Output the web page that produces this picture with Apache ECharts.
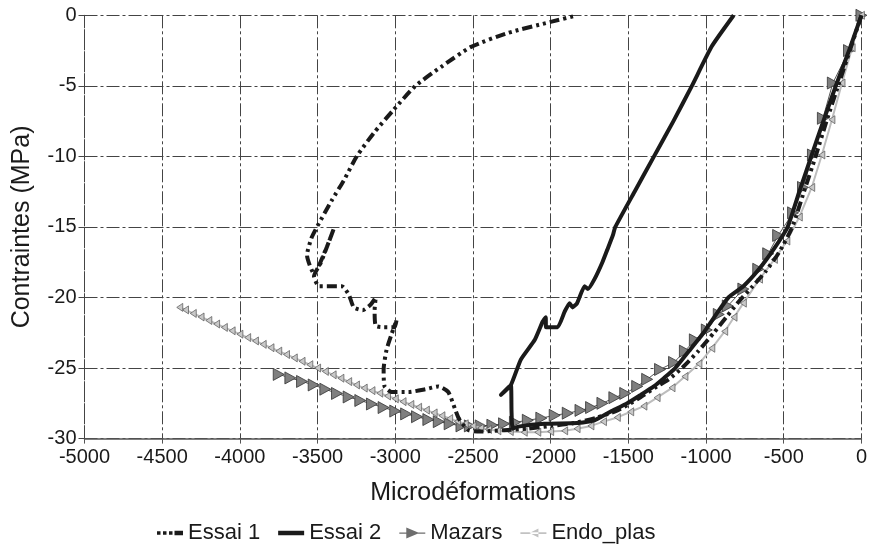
<!DOCTYPE html>
<html>
<head>
<meta charset="utf-8">
<script src="https://cdn.jsdelivr.net/npm/echarts@6/dist/echarts.min.js"></script>
<style>
html,body{margin:0;padding:0;background:#fff;}
#c{width:870px;height:553px;}
</style>
</head>
<body>
<div id="c"></div>
<script>
// ---- Axis ticks ----
const xTicks = [-5000,-4500,-4000,-3500,-3000,-2500,-2000,-1500,-1000,-500,0];
const yTicks = [-30,-25,-20,-15,-10,-5,0];

// ---- Essai 1 (microstrain, MPa) ----
const essai1X = [0,-75,-150,-225,-295,-370,-445,-530,-620,-700,-790,-870,-950,-1050,-1155,-1240,-1315,-1440,-1570,-1700,-1850,-2000,-2150,-2300,-2450,-2530,
  -2590,-2614,-2659,-2723,-2806,-2915,-3024,-3069,-3075,-3056,-3024,-2992,-3005,-3075,-3126,-3133,-3126,-3158,-3210,-3267,-3299,-3344,-3427,-3491,-3523,-3478,-3395,-3440,-3523,-3568,-3540,-3504,
  -3408,-3331,-3248,-3139,-3011,-2870,-2704,-2512,-2275,-2000,-1846];
const essai1Y = [0,-2.5,-5,-7.5,-10,-12.5,-15,-16.8,-18.2,-19.2,-20.3,-21.4,-22.5,-23.8,-25,-25.8,-26.3,-27.2,-28,-28.5,-28.9,-29.1,-29.3,-29.4,-29.5,-29.4,
  -28.6,-27.95,-26.7,-26.3,-26.5,-26.7,-26.7,-26.3,-25.1,-23.7,-22.6,-21.6,-22.1,-22.1,-22.0,-20.9,-20.0,-20.5,-20.9,-20.7,-19.8,-19.2,-19.2,-19.2,-18.5,-17.5,-15.1,-16.4,-18.3,-17.0,-15.8,-15.0,
  -13.1,-11.7,-10.0,-8.35,-6.7,-5.0,-3.65,-2.24,-1.25,-0.47,-0.05];

// ---- Essai 2 ----
const essai2X = [0,-80,-165,-245,-323,-400,-475,-560,-660,-760,-856,-935,-1016,-1110,-1198,-1270,-1336,-1420,-1507,-1616,-1718,-1830,-2040,-2210,-2245,-2252,-2256,-2320,-2256,
  -2192,-2102,-2051,-2032,-2030,-1955,-1910,-1878,-1860,-1830,-1782,-1760,-1718,-1667,-1635,-1600,-1584,-1460,-1335,-1210,-1091,-963,-822];
const essai2Y = [0,-2.5,-5,-7.5,-10,-12.5,-15,-16.5,-18,-19.2,-20,-21.2,-22.5,-23.8,-25,-25.7,-26.3,-26.9,-27.5,-28.1,-28.7,-28.9,-28.95,-29.15,-29.3,-28.0,-26.2,-26.9,-26.2,
  -24.4,-23.0,-21.7,-21.4,-22.1,-22.1,-21.0,-20.4,-20.7,-20.4,-19.2,-19.4,-18.7,-17.5,-16.6,-15.6,-15.0,-12.5,-10,-7.5,-5,-2.2,0];

// ---- Mazars model ----
const mazarsX = [0,-80,-184,-248,-312,-376,-440,-536,-600,-664,-760,-860,-918,-995,-1072,-1136,-1206,-1296,-1379,-1443,-1520,-1590,-1667,-1740,-1808,-1890,-1974,-2060,-2147,-2230,-2300,-2375,-2450,-2520,-2574,
  -2650,-2720,-2787,-2860,-2930,-3000,-3075,-3150,-3225,-3300,-3375,-3450,-3525,-3600,-3675,-3750];
const mazarsY = [0,-2.5,-4.8,-7.3,-9.9,-12.2,-14.0,-15.6,-16.9,-18.0,-19.4,-20.6,-21.2,-22.3,-23.0,-23.8,-24.6,-25.1,-25.8,-26.3,-26.8,-27.1,-27.5,-27.8,-28.0,-28.2,-28.35,-28.55,-28.7,-28.85,-28.95,-29.05,-29.1,-29.1,-29.1,
  -28.95,-28.8,-28.65,-28.45,-28.25,-28.05,-27.8,-27.55,-27.3,-27.05,-26.8,-26.5,-26.2,-25.95,-25.7,-25.45];

// ---- Endo_plas model ----
const endoX = [0,-60,-125,-190,-255,-320,-400,-480,-560,-656,-760,-820,-880,-963,-1046,-1136,-1219,-1315,-1400,-1485,-1571,-1660,-1741,-1830,-1910,-2000,-2083,-2170,-2260,-2340,
  -2400,-2450,-2500,-2550,-2600,-2650,-2700,-2750,-2800,-2850,-2900,-2950,-3000,-3050,-3100,-3150,-3200,-3250,-3300,-3350,-3400,-3450,-3500,-3550,-3600,-3650,-3700,-3750,-3800,-3850,-3900,-3950,-4000,-4050,-4100,-4150,-4200,-4250,-4300,-4350,-4387];
const endoY = [0,-2.3,-4.8,-7.4,-9.9,-12.2,-14.3,-16.0,-17.3,-18.7,-20.4,-21.4,-22.4,-23.6,-24.7,-25.6,-26.4,-27.1,-27.7,-28.1,-28.5,-28.8,-29.1,-29.3,-29.45,-29.5,-29.55,-29.55,-29.5,-29.45,
  -29.35,-29.25,-29.1,-28.95,-28.78,-28.58,-28.38,-28.18,-27.98,-27.78,-27.58,-27.38,-27.18,-26.98,-26.78,-26.6,-26.42,-26.2,-25.96,-25.72,-25.48,-25.24,-25.0,-24.76,-24.52,-24.28,-24.04,-23.8,-23.56,-23.32,-23.08,-22.84,-22.6,-22.36,-22.12,-21.88,-21.63,-21.38,-21.13,-20.88,-20.7];

const zip = (xs, ys) => xs.map((x, i) => [x, ys[i]]);
const FONT = '"Liberation Sans", Arial, Helvetica, sans-serif';
const gridDash = [13, 3, 3, 3];

const chart = echarts.init(document.getElementById('c'), null, {renderer: 'canvas'});
chart.setOption({
  animation: false,
  backgroundColor: '#ffffff',
  grid: {left: 84.5, right: 4.5, top: 15.3, bottom: 114.4, containLabel: false},
  xAxis: {
    type: 'value', min: xTicks[0], max: xTicks[xTicks.length - 1], interval: 500,
    name: 'Microdéformations', nameLocation: 'middle', nameGap: 42,
    nameTextStyle: {fontFamily: FONT, fontSize: 25, color: '#1a1a1a'},
    axisLine: {show: true, onZero: false, lineStyle: {color: '#555', width: 1.5}},
    axisTick: {show: true, length: 5, lineStyle: {color: '#555'}},
    axisLabel: {fontFamily: FONT, fontSize: 20, color: '#1a1a1a', margin: 9, formatter: v => String(v)},
    splitLine: {show: true, lineStyle: {color: '#444', width: 1, type: gridDash}}
  },
  yAxis: {
    type: 'value', min: yTicks[0], max: yTicks[yTicks.length - 1], interval: 5,
    name: 'Contraintes (MPa)', nameLocation: 'middle', nameGap: 50,
    nameTextStyle: {fontFamily: FONT, fontSize: 25, color: '#1a1a1a'},
    axisLine: {show: true, onZero: false, lineStyle: {color: '#444', width: 1, type: gridDash}},
    axisTick: {show: true, length: 6, lineStyle: {color: '#444'}},
    axisLabel: {fontFamily: FONT, fontSize: 20, color: '#1a1a1a', margin: 8, formatter: v => String(v)},
    splitLine: {show: true, lineStyle: {color: '#444', width: 1, type: gridDash}}
  },
  legend: {
    data: [
      {name: 'Essai 1', icon: 'path://M0,4.5h3.5v3.5h-3.5z M6,4.5h3.5v3.5h-3.5z M12,4.5h3.5v3.5h-3.5z M17.5,4h8.5v4.5h-8.5z',
        itemStyle: {color: '#1a1a1a', borderWidth: 0}},
      {name: 'Essai 2', icon: 'path://M0,4h26v4.5h-26z', itemStyle: {color: '#1a1a1a', borderWidth: 0}},
      {name: 'Mazars', icon: 'path://M0,5.5h26v1.2h-26z M7,0.5L20,6L7,11.5Z', itemStyle: {color: '#6e6e6e', borderWidth: 0}},
      {name: 'Endo_plas', icon: 'path://M0,5.2h26v1.8h-26z M18,1.5L9,6L18,10.5Z', itemStyle: {color: '#c2c2c2', borderWidth: 0}}
    ],
    bottom: 4, left: 152,
    itemWidth: 26, itemHeight: 12, itemGap: 18,
    textStyle: {fontFamily: FONT, fontSize: 22, color: '#1a1a1a', padding: [0, 0, 0, 0]}
  },
  series: [
    {
      name: 'Mazars', type: 'line', data: zip(mazarsX, mazarsY), z: 2,
      symbol: 'path://M0,0L10,5L0,10Z', symbolSize: [11, 12], showAllSymbol: true,
      lineStyle: {color: '#555', width: 1},
      itemStyle: {color: '#7f7f7f', borderColor: '#333', borderWidth: 0.8}
    },
    {
      name: 'Endo_plas', type: 'line', data: zip(endoX, endoY), z: 3,
      symbol: 'path://M10,0L0,5L10,10Z', symbolSize: [6, 8], showAllSymbol: true,
      lineStyle: {color: '#bdbdbd', width: 2},
      itemStyle: {color: '#c8c8c8', borderColor: '#555', borderWidth: 0.7}
    },
    {
      name: 'Essai 1', type: 'line', data: zip(essai1X, essai1Y), z: 4,
      symbol: 'none', smooth: 0.2,
      itemStyle: {color: '#1a1a1a'},
      lineStyle: {color: '#1a1a1a', width: 4, type: [10, 4, 3, 4, 3, 4], cap: 'butt', join: 'round'}
    },
    {
      name: 'Essai 2', type: 'line', data: zip(essai2X, essai2Y), z: 5,
      symbol: 'none', smooth: 0.15,
      itemStyle: {color: '#1a1a1a'},
      lineStyle: {color: '#1a1a1a', width: 4, join: 'round'}
    }
  ]
});
</script>
</body>
</html>
